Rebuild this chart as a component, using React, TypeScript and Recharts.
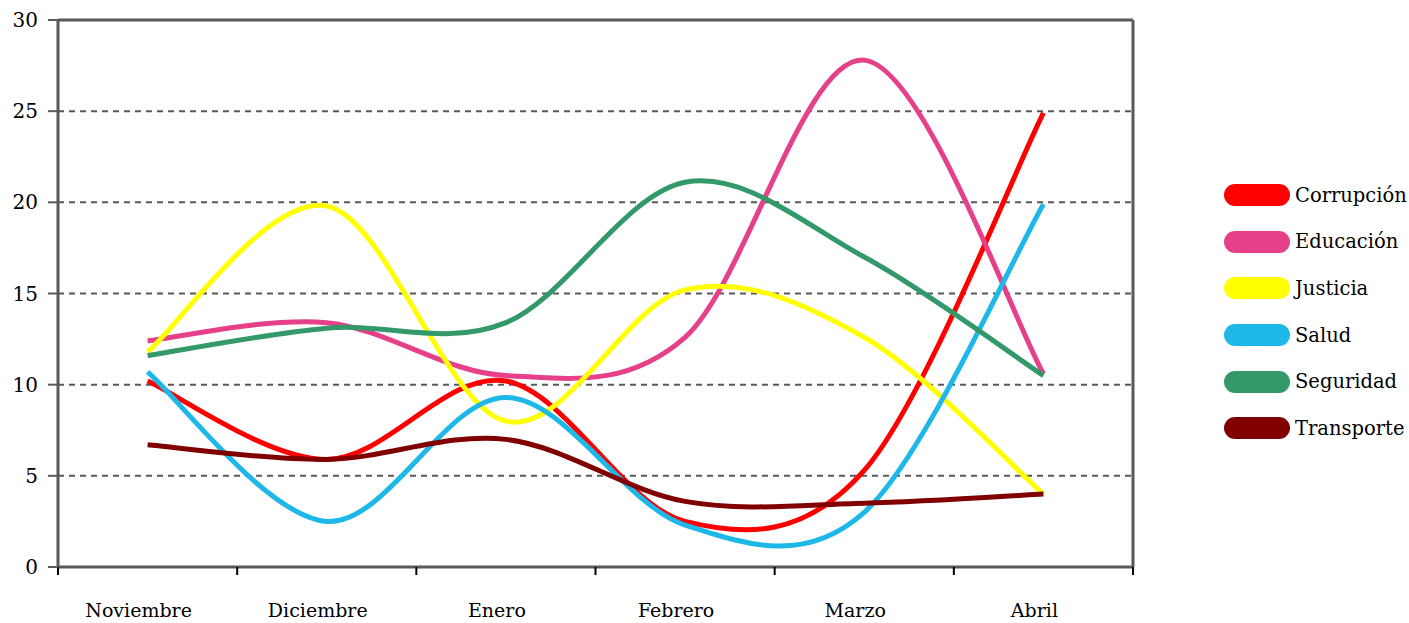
import { LineChart, Line, XAxis, YAxis, CartesianGrid, ReferenceLine, Legend } from 'recharts'

const months = ['Noviembre', 'Diciembre', 'Enero', 'Febrero', 'Marzo', 'Abril']

const corrupcion = [10.2, 5.9, 10.2, 2.5, 5.3, 24.9]
const educacion = [12.4, 13.4, 10.5, 12.6, 27.8, 10.6]
const justicia = [11.8, 19.8, 8.0, 15.2, 12.6, 4.0]
const salud = [10.7, 2.5, 9.3, 2.3, 3.0, 19.9]
const seguridad = [11.6, 13.1, 13.4, 21.1, 17.0, 10.5]
const transporte = [6.7, 5.9, 7.0, 3.6, 3.5, 4.0]

const yTicks = [0, 5, 10, 15, 20, 25, 30]

const series = [
  { key: 'Corrupción', values: corrupcion, color: '#ff0000' },
  { key: 'Educación', values: educacion, color: '#e6408a' },
  { key: 'Justicia', values: justicia, color: '#ffff00' },
  { key: 'Salud', values: salud, color: '#1eb8e8' },
  { key: 'Seguridad', values: seguridad, color: '#33996a' },
  { key: 'Transporte', values: transporte, color: '#800000' },
]

// category i sits in the middle of band [i, i+1]
const data = months.map((m, i) => {
  const row: Record<string, number | string> = { x: i + 0.5, month: m }
  series.forEach((s) => {
    row[s.key] = s.values[i]
  })
  return row
})

const W = 1409
const H = 623
const LEFT = 58
const RIGHT = 276
const BAND = (W - LEFT - RIGHT) / months.length
const AXIS = '#595959'
const FONT = 'DejaVu Serif'

// Excel-like smoothed line (Catmull-Rom through the points)
function smoothCurve(context: any) {
  let pts: number[][] = []
  return {
    areaStart() {},
    areaEnd() {},
    lineStart() {
      pts = []
    },
    point(x: number, y: number) {
      pts.push([+x, +y])
    },
    lineEnd() {
      const n = pts.length
      if (!n) return
      context.moveTo(pts[0][0], pts[0][1])
      for (let i = 0; i < n - 1; i++) {
        const p0 = pts[i - 1] || pts[i]
        const p1 = pts[i]
        const p2 = pts[i + 1]
        const p3 = pts[i + 2] || pts[i + 1]
        context.bezierCurveTo(
          p1[0] + (p2[0] - p0[0]) / 6,
          p1[1] + (p2[1] - p0[1]) / 6,
          p2[0] - (p3[0] - p1[0]) / 6,
          p2[1] - (p3[1] - p1[1]) / 6,
          p2[0],
          p2[1]
        )
      }
    },
  }
}

function MonthTick(props: any) {
  const { x, y, payload } = props
  const label = months[payload.value]
  if (!label) return <g />
  return (
    <text x={x + BAND / 2 - 9} y={y + 42} textAnchor="middle" fill="#000" fontSize={19} fontFamily={FONT}>
      {label}
    </text>
  )
}

function renderLegend() {
  return (
    <div style={{ fontFamily: FONT, fontSize: 19.5, color: '#000' }}>
      {series.map((s) => (
        <div key={s.key} style={{ display: 'flex', alignItems: 'center', height: 46.6 }}>
          <div style={{ width: 66, height: 22, borderRadius: 11, background: s.color, flexShrink: 0 }} />
          <span style={{ marginLeft: 5, whiteSpace: 'nowrap' }}>{s.key}</span>
        </div>
      ))}
    </div>
  )
}

export default function App() {
  return (
    <div style={{ position: 'absolute', left: 0, top: 0, background: '#fff' }}>
      <LineChart width={W} height={H} data={data} margin={{ top: 20, right: RIGHT, bottom: 0, left: 0 }}>
        <CartesianGrid horizontal vertical={false} stroke={AXIS} strokeWidth={2} strokeDasharray="6 5" />
        <XAxis
          type="number"
          dataKey="x"
          domain={[0, 6]}
          ticks={[0, 1, 2, 3, 4, 5, 6]}
          interval={0}
          height={56}
          axisLine={{ stroke: AXIS, strokeWidth: 3 }}
          tickLine={{ stroke: '#000', strokeWidth: 2 }}
          tickSize={8}
          tickMargin={0}
          tick={<MonthTick />}
        />
        <YAxis
          domain={[0, 30]}
          ticks={yTicks}
          interval={0}
          width={LEFT}
          axisLine={{ stroke: AXIS, strokeWidth: 3 }}
          tickLine={{ stroke: AXIS, strokeWidth: 2 }}
          tickSize={10}
          tickMargin={10}
          tick={{ fill: '#000', fontSize: 20, fontFamily: FONT }}
        />
        <ReferenceLine y={30} stroke={AXIS} strokeWidth={3} />
        <ReferenceLine x={6} stroke={AXIS} strokeWidth={3} />
        {series.map((s) => (
          <Line
            key={s.key}
            dataKey={s.key}
            name={s.key}
            type={smoothCurve as any}
            stroke={s.color}
            strokeWidth={5}
            dot={false}
            activeDot={false}
            isAnimationActive={false}
          />
        ))}
        <Legend
          layout="horizontal"
          verticalAlign="middle"
          align="center"
          content={renderLegend}
          wrapperStyle={{ left: 1224, top: 172, width: 185 }}
        />
      </LineChart>
    </div>
  )
}
